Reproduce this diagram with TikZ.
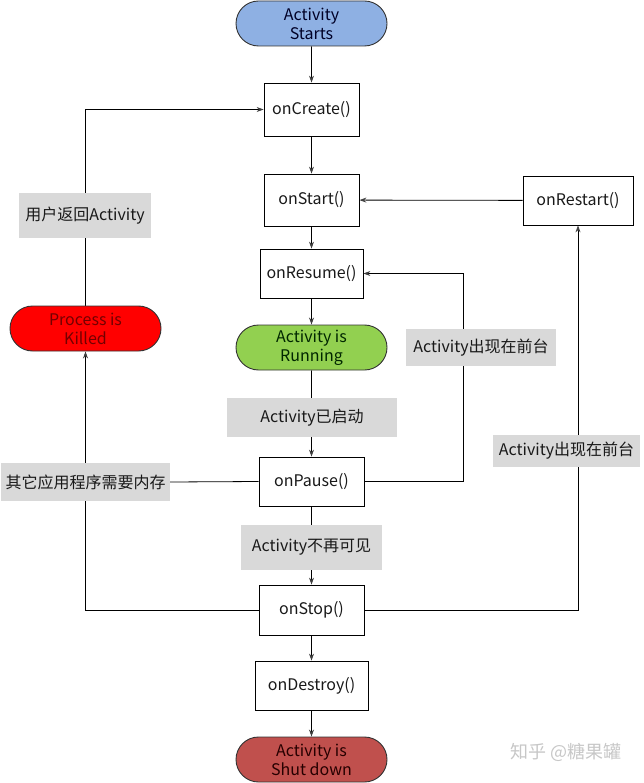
\documentclass[tikz,border=0pt]{standalone}
\usepackage{fontspec}
\setmainfont{Noto Sans CJK SC}
\usetikzlibrary{arrows.meta,shapes.misc}
\pgfdeclarelayer{background}
\pgfsetlayers{background,main}
\definecolor{pillblue}{HTML}{8EB0E3}
\definecolor{pillgreen}{HTML}{92D050}
\definecolor{pillred}{HTML}{FF0000}
\definecolor{pillbrown}{HTML}{C0504D}
\definecolor{lblgray}{HTML}{D9D9D9}
\definecolor{arrgray}{HTML}{404040}
\tikzset{
  txt/.style={font=\fontsize{16}{19}\selectfont, text=black!90},
  box/.style={txt, draw=black, fill=white, line width=0.8pt, inner sep=0pt},
  pill/.style={txt, rounded rectangle, draw=black!80, line width=0.9pt, inner sep=0pt, align=center,
               minimum width=151pt, minimum height=45pt},
  lbl/.style={txt, fill=lblgray, inner sep=0pt},
  conn/.style={draw=black, line width=0.8pt},
  arr/.style={conn, -{Stealth[length=7pt,width=5pt,fill=arrgray,color=arrgray]}}
}
\begin{document}
\begin{tikzpicture}[x=1pt,y=-1pt]
\useasboundingbox (0,0) rectangle (643,783);
% main column
\node[pill, fill=pillblue, text=black!85!blue] (start) at (311.5,23.5) {Activity\\Starts};
\node[box, minimum width=95pt, minimum height=53pt] (create) at (311.5,109.5) {onCreate()};
\node[box, minimum width=95pt, minimum height=52pt] (onstart) at (311.5,200) {onStart()};
\node[box, minimum width=110pt, minimum height=49pt] (restart) at (578,200.5) {onRestart()};
\node[box, minimum width=103pt, minimum height=49pt] (resume) at (311.5,273.5) {onResume()};
\node[pill, fill=pillgreen, text=black!85!green] (running) at (311.5,347.5) {Activity is\\Running};
\node[lbl, minimum width=170pt, minimum height=39pt] (started) at (312,417.5) {Activity已启动};
\node[box, minimum width=105pt, minimum height=49pt] (pause) at (311.5,481.5) {onPause()};
\node[lbl, minimum width=141pt, minimum height=45pt] (invisible) at (311.5,547.5) {Activity不再可见};
\node[box, minimum width=105pt, minimum height=50pt] (stop) at (311.5,610) {onStop()};
\node[box, minimum width=113pt, minimum height=49pt] (destroy) at (311.5,685.5) {onDestroy()};
\node[pill, fill=pillbrown, text=black!85!red] (shut) at (311.5,759.5) {Activity is\\Shut down};
% left side
\node[pill, fill=pillred, text=red!45!black] (killed) at (85.5,328.5) {Process is\\Killed};
\node[lbl, minimum width=132pt, minimum height=45pt] (back) at (85,215.5) {用户返回Activity};
\node[lbl, minimum width=169pt, minimum height=38pt] (memory) at (85.5,482) {其它应用程序需要内存};
% right side labels
\node[lbl, minimum width=150pt, minimum height=37pt] (fore1) at (481,347.5) {Activity出现在前台};
\node[lbl, minimum width=147pt, minimum height=32pt] (fore2) at (566.5,451) {Activity出现在前台};
% watermark
\node[font=\fontsize{18}{20}\selectfont, text=black!22] (wm) at (566,752) {知乎 @糖果罐};
\coordinate (r1) at (463,481.5);
\begin{pgfonlayer}{background}
\draw[arr] (start) -- (create);
\draw[arr] (create) -- (onstart);
\draw[arr] (onstart) -- (resume);
\draw[arr] (resume) -- (running);
\draw[arr] (running) -- (pause);
\draw[arr] (pause) -- (stop);
\draw[arr] (stop) -- (destroy);
\draw[arr] (destroy) -- (shut);
\draw[arr] (restart) -- (onstart);
\draw[arr] (pause.east) -- (r1) |- (resume.east);
\draw[arr] (stop.east) -| (restart.south);
\draw[arr] (stop.west) -| (killed.south);
\draw[arr] (killed.north) |- (create.west);
\draw[conn] (pause.west) -- (memory.east);
\end{pgfonlayer}
\end{tikzpicture}
\end{document}
